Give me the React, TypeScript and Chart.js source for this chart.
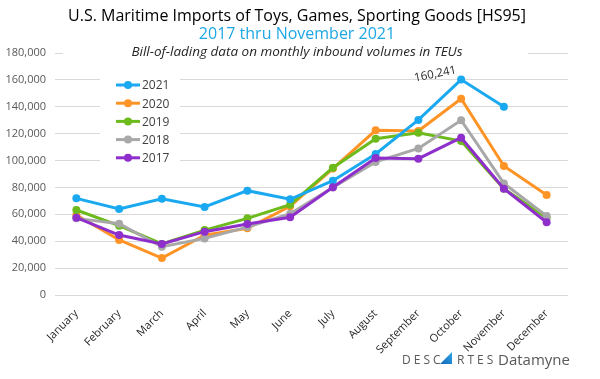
import React, { useEffect, useRef } from "react";
import { Chart, registerables } from "chart.js";
Chart.register(...registerables);

const months = ["January", "February", "March", "April", "May", "June", "July", "August", "September", "October", "November", "December"];
const v2021 = [71900, 64000, 71600, 65500, 77600, 71200, 85000, 104900, 130200, 160241, 140000, null];
const v2020 = [59500, 41000, 27500, 44500, 49600, 66000, 94000, 122500, 122000, 146000, 96000, 74400];
const v2019 = [63200, 51600, 38000, 48300, 57000, 67200, 94700, 116300, 120700, 114500, 79000, 57500];
const v2018 = [57000, 53000, 35900, 42100, 50500, 60500, 80000, 99000, 109000, 130000, 83000, 58800];
const v2017 = [57500, 44600, 37900, 47100, 52800, 57800, 80100, 101900, 101400, 117000, 79100, 54100];
const seriesLabels = ["2021", "2020", "2019", "2018", "2017"];
const seriesColors = ["#1aa9f0", "#ff9426", "#6cba1c", "#a8a8a8", "#8e2fcc"];
const seriesData = [v2021, v2020, v2019, v2018, v2017];
const seriesOrder = [1, 4, 3, 2, 0];
const yTicksMax = 180000;
const yTickStep = 20000;
const title1 = "U.S. Maritime Imports of Toys, Games, Sporting Goods [HS95]";
const title2 = "2017 thru November 2021";
const title3 = "Bill-of-lading data on monthly inbound volumes in TEUs";
const peakLabel = "160,241";

const FONT = '"Open Sans", "Noto Sans", sans-serif';

const decor = {
  id: "decor",
  beforeDatasetsDraw(chart: any) {
    const ctx = chart.ctx;
    ctx.save();
    ctx.fillStyle = "#ffffff";
    ctx.fillRect(63, 45, 465, 16);
    ctx.fillRect(100, 70, 80, 100);
    chart.data.datasets.forEach((ds: any, i: number) => {
      const y = 85 + i * 18.2;
      ctx.strokeStyle = ds.borderColor;
      ctx.lineWidth = 3;
      ctx.beginPath();
      ctx.moveTo(116, y);
      ctx.lineTo(140, y);
      ctx.stroke();
      ctx.fillStyle = ds.borderColor;
      ctx.beginPath();
      ctx.arc(128, y, 4, 0, Math.PI * 2);
      ctx.fill();
      ctx.fillStyle = "#404040";
      ctx.font = `12px ${FONT}`;
      ctx.textAlign = "left";
      ctx.textBaseline = "middle";
      ctx.fillText(ds.label, 142, y + 1);
    });
    ctx.restore();
  },
  afterDraw(chart: any) {
    const ctx = chart.ctx;
    ctx.save();
    ctx.textAlign = "center";
    ctx.textBaseline = "middle";
    ctx.fillStyle = "#000000";
    ctx.font = `16px ${FONT}`;
    ctx.fillText(title1, 297, 16);
    ctx.fillStyle = "#1ea7e4";
    ctx.font = `16px ${FONT}`;
    ctx.fillText(title2, 297, 34);
    ctx.fillStyle = "#262626";
    ctx.font = `italic 13.5px ${FONT}`;
    ctx.fillText(title3, 297, 52);

    const meta = chart.getDatasetMeta(0);
    const pt = meta.data[9];
    if (pt) {
      ctx.save();
      ctx.translate(pt.x - 4, pt.y - 4);
      ctx.rotate(-0.2);
      ctx.textAlign = "right";
      ctx.textBaseline = "bottom";
      ctx.fillStyle = "#262626";
      ctx.font = `11.5px ${FONT}`;
      ctx.fillText(peakLabel, 0, 0);
      ctx.restore();
    }

    ctx.textAlign = "left";
    ctx.textBaseline = "alphabetic";
    ctx.fillStyle = "#595959";
    ctx.font = `12px ${FONT}`;
    (ctx as any).letterSpacing = "3px";
    ctx.fillText("DESC", 402, 364);
    ctx.fillText("RTES", 457, 364);
    (ctx as any).letterSpacing = "0px";
    const g = ctx.createLinearGradient(440, 364, 452, 352);
    g.addColorStop(0, "#1565b8");
    g.addColorStop(1, "#29a8e8");
    ctx.fillStyle = g;
    ctx.beginPath();
    ctx.moveTo(440, 364);
    ctx.lineTo(452, 352);
    ctx.lineTo(452, 364);
    ctx.closePath();
    ctx.fill();
    ctx.fillStyle = "#595959";
    ctx.font = `15px ${FONT}`;
    ctx.fillText("Datamyne", 498, 365);
    ctx.restore();
  },
};

export default function App() {
  const ref = useRef<HTMLCanvasElement>(null);
  useEffect(() => {
    document.body.style.margin = "0";
    const chart = new Chart(ref.current!, {
      type: "line",
      data: {
        labels: months,
        datasets: seriesLabels.map((l, i) => ({
          label: l,
          data: seriesData[i],
          borderColor: seriesColors[i],
          backgroundColor: seriesColors[i],
          borderWidth: 3,
          pointRadius: 4,
          pointBorderWidth: 0,
          pointHoverRadius: 4,
          tension: 0,
          order: seriesOrder[i],
          spanGaps: false,
        })),
      },
      options: {
        responsive: false,
        animation: false,
        devicePixelRatio: 1,
        layout: { padding: { top: 53, right: 32, left: 0, bottom: 0 } },
        plugins: { legend: { display: false }, tooltip: { enabled: false }, title: { display: false } },
        scales: {
          x: {
            offset: true,
            grid: { display: false },
            border: { display: false },
            ticks: {
              minRotation: 45,
              maxRotation: 45,
              autoSkip: false,
              padding: 4,
              color: "#262626",
              font: { family: FONT, size: 11 },
            },
            afterFit: (s: any) => {
              s.height = 84;
            },
          },
          y: {
            min: 0,
            max: yTicksMax,
            grid: { color: "#d9d9d9", drawTicks: false, lineWidth: 1 },
            border: { display: false },
            ticks: {
              stepSize: yTickStep,
              padding: 9,
              color: "#595959",
              font: { family: FONT, size: 11 },
              callback: (v: any) => Number(v).toLocaleString("en-US"),
            },
            afterFit: (s: any) => {
              s.width = 55;
            },
          },
        },
      },
      plugins: [decor],
    });
    return () => chart.destroy();
  }, []);
  return <canvas ref={ref} width={600} height={379} style={{ display: "block" }} />;
}
